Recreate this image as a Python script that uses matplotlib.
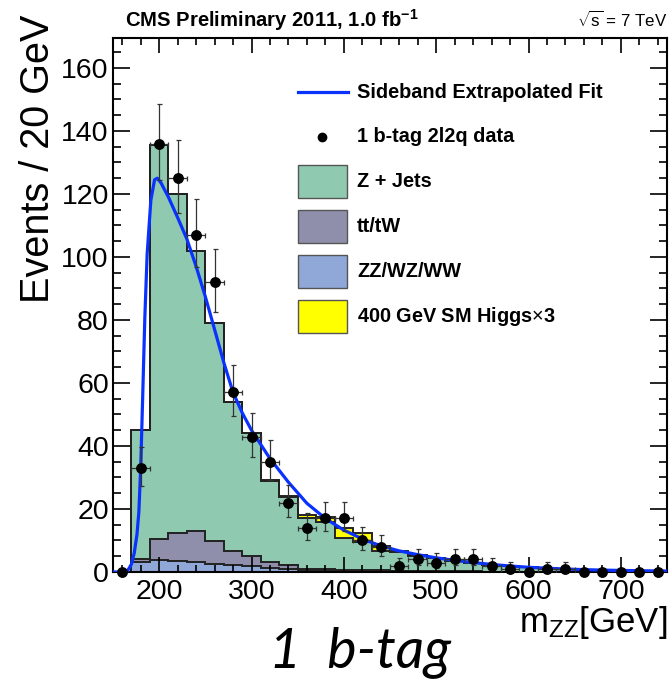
import numpy as np
import matplotlib
matplotlib.use("Agg")
import matplotlib.pyplot as plt
from matplotlib.lines import Line2D
from matplotlib.patches import Rectangle
from matplotlib.ticker import MultipleLocator

plt.rcParams['font.family'] = ['Liberation Sans', 'DejaVu Sans']
plt.rcParams['mathtext.fontset'] = 'custom'
plt.rcParams['mathtext.rm'] = 'Liberation Sans'
plt.rcParams['mathtext.it'] = 'Liberation Sans:italic'
plt.rcParams['mathtext.bf'] = 'Liberation Sans:bold'

# bin edges of the m_ZZ histogram (20 GeV bins)
edges = np.arange(150, 751, 20)

# stacked MC components, per bin (150-170, 170-190, ...)
zz_wz_ww = [0, 3.3, 3.9, 3.5, 3.2, 2.6, 2.3, 1.9, 1.3, 0.8, 0.6, 0.5, 0.4, 0.35, 0.3,
            0.25, 0.2, 0.2, 0.15, 0.15, 0.1, 0.1, 0.1, 0.1, 0.1, 0.05, 0.05, 0.05, 0.05, 0.05]
tt_tw = [0, 0.9, 6.5, 9.0, 9.9, 7.3, 4.4, 3.1, 1.9, 1.3, 0.5, 0.4, 0.3, 0.25, 0.2,
         0.15, 0.1, 0.1, 0.1, 0.05, 0.05, 0.05, 0.05, 0.05, 0, 0, 0, 0, 0, 0]
z_jets = [0, 40.8, 125.1, 107.5, 88.9, 69.1, 47.3, 39.0, 25.8, 21.6, 15.9, 15.1, 10.0, 9.0, 6.3,
          5.9, 4.85, 4.0, 3.35, 2.75, 2.2, 1.7, 1.35, 1.05, 0.85, 0.65, 0.5, 0.4, 0.3, 0.25]
higgs_x3 = [0, 0, 0, 0, 0, 0, 0, 0, 0.2, 0.4, 1.1, 1.4, 3.2, 2.9, 1.5,
            0.5, 0.2, 0.1, 0.05, 0, 0, 0, 0, 0, 0, 0, 0, 0, 0, 0]

# data points (bin centres) with asymmetric errors
data_m = [160, 180, 200, 220, 240, 260, 280, 300, 320, 340, 360, 380, 400, 420, 440,
          460, 480, 500, 520, 540, 560, 580, 600, 620, 640, 660, 680, 700, 720, 740]
data_n = [0, 33, 136, 125, 107, 92, 57, 43, 35, 22, 14, 17, 17, 10, 8,
          2, 4, 3, 4, 4, 2, 1, 0, 1, 1, 0, 0, 0, 0, 0]
err_up = [0, 6.8, 12.7, 12.2, 11.4, 10.6, 8.6, 7.6, 7.0, 5.7, 4.8, 5.2, 5.2, 4.3, 3.9,
          2.6, 3.2, 2.9, 3.2, 3.2, 2.6, 2.3, 0, 2.3, 2.3, 0, 0, 0, 0, 0]
err_dn = [0, 5.7, 11.6, 11.2, 10.3, 9.6, 7.5, 6.5, 5.9, 4.7, 3.7, 4.1, 4.1, 3.1, 2.8,
          1.3, 1.9, 1.6, 1.9, 1.9, 1.3, 0.8, 0, 0.8, 0.8, 0, 0, 0, 0, 0]

# sideband extrapolated fit
fit_m = [150, 162, 166, 170, 173, 176, 178, 180, 182, 184.5, 187, 191, 195, 198, 202,
         210, 220, 230, 240, 250, 260, 270, 280, 290, 300, 320, 340, 360, 380, 400,
         420, 440, 460, 480, 500, 520, 540, 560, 580, 600, 620, 640, 660, 680, 700, 720, 750]
fit_v = [0, 0, 0.5, 2.5, 6, 12, 19, 33, 54, 81, 101, 118, 124.5, 125, 123.5,
         119, 112.5, 105.7, 97, 87.4, 77, 66.5, 57, 50.5, 45, 36, 28.5, 21.8, 17, 13.3,
         10.5, 8.3, 6.7, 5.5, 4.5, 3.7, 3.0, 2.4, 1.9, 1.5, 1.2, 0.95, 0.75, 0.6, 0.5, 0.4, 0.3]

legend_labels = ['Sideband Extrapolated Fit', '1 b-tag 2l2q data', 'Z + Jets', 'tt/tW',
                 'ZZ/WZ/WW', r'400 GeV SM Higgs$\times$3']

c_zjets = '#8fc9b0'
c_tt = '#8f8fac'
c_zz = '#8fa8d7'
c_higgs = '#ffff00'
c_fit = '#0a32ff'

W, H = 672, 684
fig = plt.figure(figsize=(W / 100, H / 100), dpi=100)
ax = fig.add_axes([113 / W, 1 - 572 / H, 554 / W, 534 / H])

stack = [(zz_wz_ww, c_zz), (tt_tw, c_tt), (z_jets, c_zjets), (higgs_x3, c_higgs)]
base = np.zeros(len(edges) - 1)
for vals, col in stack:
    top = base + np.array(vals)
    ax.stairs(top, edges, baseline=base, fill=True, color=col, lw=0)
    base = top
base = np.zeros(len(edges) - 1)
for vals, col in stack:
    top = base + np.array(vals)
    ax.stairs(top, edges, baseline=None, color='#222222', lw=1.4)
    base = top

ax.plot(fit_m, fit_v, color=c_fit, lw=2.3, zorder=4)

dm = np.array(data_m)
dn = np.array(data_n)
mask = dn > 0
ax.errorbar(dm[mask], dn[mask], yerr=[np.array(err_dn)[mask], np.array(err_up)[mask]],
            xerr=10, fmt='none', ecolor='#333333', elinewidth=0.9, capsize=1.8,
            capthick=0.9, zorder=5)
ax.plot(dm, dn, 'o', color='black', ms=6.8, zorder=6, clip_on=False)

ax.set_xlim(150, 750)
ax.set_ylim(0, 169.5)
ax.xaxis.set_major_locator(MultipleLocator(100))
ax.xaxis.set_minor_locator(MultipleLocator(20))
ax.yaxis.set_major_locator(MultipleLocator(20))
ax.yaxis.set_minor_locator(MultipleLocator(5))
ax.tick_params(which='both', direction='in', top=True, right=True, width=1.2,
               labelsize=20.5, colors='black')
ax.tick_params(axis='x', which='major', length=11, pad=5)
ax.tick_params(axis='x', which='minor', length=5)
ax.tick_params(axis='y', which='major', length=12, pad=3)
ax.tick_params(axis='y', which='minor', length=6)
for s in ax.spines.values():
    s.set_linewidth(1.5)

# legend drawn by hand in figure pixels (rows 45 px apart)
def fx(px):
    return px / W

def fy(py):
    return 1 - py / H

row0, step = 92, 44.8
for i, lab in enumerate(legend_labels):
    yc = row0 + step * i
    if i == 0:
        fig.add_artist(Line2D([fx(298), fx(348)], [fy(yc), fy(yc)], color=c_fit, lw=2.3))
    elif i == 1:
        fig.add_artist(Line2D([fx(322)], [fy(yc)], marker='o', color='black', ms=6))
    else:
        col = [c_zjets, c_tt, c_zz, c_higgs][i - 2]
        fig.add_artist(Rectangle((fx(298), fy(yc + 16.5)), 49 / W, 33 / H,
                                 facecolor=col, edgecolor='#555555', lw=1))
    fig.text(fx(357), fy(yc), lab, fontsize=14.3, fontweight='bold', ha='left', va='center')

fig.text(fx(125), fy(27), r'CMS Preliminary 2011, 1.0 fb$^{\mathbf{-1}}$',
         fontsize=14.6, fontweight='bold', ha='left', va='baseline')
fig.text(fx(667), fy(27), r'$\sqrt{\rm s}$ = 7 TeV', fontsize=12.2,
         ha='right', va='baseline')
fig.text(fx(38), fy(15), 'Events / 20 GeV', fontsize=28.5, rotation=90,
         ha='center', va='top')
fig.text(fx(667), fy(632), r'm$_{\rm ZZ}$[GeV]', fontsize=25, ha='right',
         va='baseline')
fig.text(fx(360), fy(667), '1  b-tag', fontsize=40, style='italic',
         family='Lato', ha='center', va='baseline')

fig.savefig('out.png', dpi=100)
